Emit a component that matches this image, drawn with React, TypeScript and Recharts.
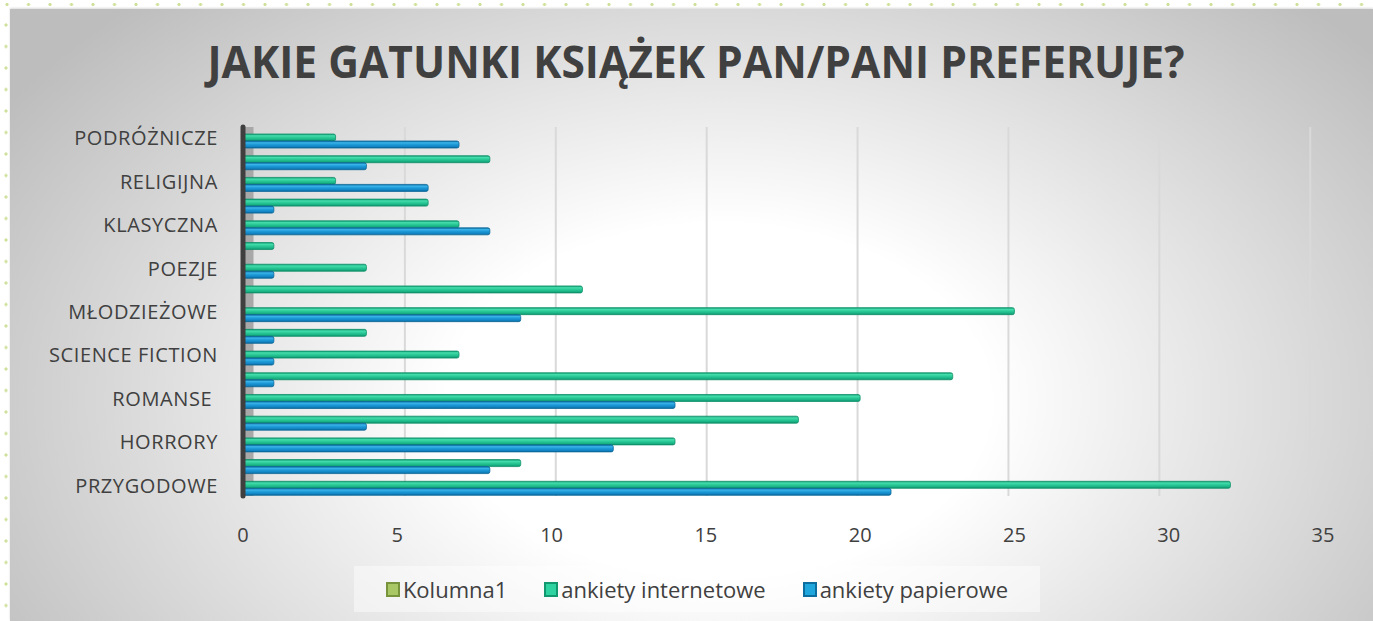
import React from "react";
import {
  BarChart,
  Bar,
  XAxis,
  YAxis,
  CartesianGrid,
  Legend,
  ReferenceArea,
} from "recharts";

// top to bottom, as in the picture; only every other row has a visible label
const categories = [
  "PODRÓŻNICZE",
  "",
  "RELIGIJNA",
  "",
  "KLASYCZNA",
  "",
  "POEZJE",
  "",
  "MŁODZIEŻOWE",
  "",
  "SCIENCE FICTION",
  "",
  "ROMANSE ",
  "",
  "HORRORY",
  "",
  "PRZYGODOWE",
];
const kolumna1 = [
  null, null, null, null, null, null, null, null, null,
  null, null, null, null, null, null, null, null,
];
const internetowe = [3, 8, 3, 6, 7, 1, 4, 11, 25, 4, 7, 23, 20, 18, 14, 9, 32];
const papierowe = [7, 4, 6, 1, 8, 0, 1, 0, 9, 1, 1, 1, 14, 4, 12, 8, 21];
const xTicks = [0, 5, 10, 15, 20, 25, 30, 35];

const data = categories.map((label, i) => ({
  key: `c${i}`,
  label,
  kolumna1: kolumna1[i],
  internetowe: internetowe[i],
  papierowe: papierowe[i],
}));

const series = [
  { key: "kolumna1", name: "Kolumna1", fill: "#9bbb59", stroke: "#77933c", swatch: "#a9c765", border: "#77933c" },
  { key: "internetowe", name: "ankiety internetowe", fill: "url(#gInt)", stroke: "#11926b", swatch: "#2fd3a2", border: "#12986f" },
  { key: "papierowe", name: "ankiety papierowe", fill: "url(#gPap)", stroke: "#0b6899", swatch: "#1fa6dd", border: "#0c6d9f" },
];

const TEXT = "#404040";
const FONT = "'Open Sans', sans-serif";

const CategoryTick = (props: any) => {
  const { x, y, payload } = props;
  return (
    <text
      x={x}
      y={y}
      textAnchor="end"
      dominantBaseline="central"
      fill={TEXT}
      fontSize={20}
      fontFamily={FONT}
      letterSpacing={0.6}
      style={{ whiteSpace: "pre" }}
    >
      {categories[payload.index]}
    </text>
  );
};

const LegendBox = () => (
  <div
    style={{
      height: 46,
      display: "flex",
      alignItems: "center",
      justifyContent: "center",
      background: "rgba(255,255,255,0.45)",
      fontFamily: FONT,
      fontSize: 22,
      color: TEXT,
    }}
  >
    {series.map((s, i) => (
      <span
        key={s.key}
        style={{
          display: "flex",
          alignItems: "center",
          marginLeft: i === 0 ? 0 : 37,
        }}
      >
        <span
          style={{
            width: 10,
            height: 11,
            background: s.swatch,
            border: `2px solid ${s.border}`,
            marginRight: 3,
          }}
        />
        {s.name}
      </span>
    ))}
  </div>
);

// back-wall gridlines sit a little behind the front plane (3D look)
const gridX = ({ offset }: any) => {
  if (!offset) return [];
  return xTicks
    .filter((v) => v > 0)
    .map((v) => offset.left + 11 + (v / 35) * offset.width * 0.978);
};

const App: React.FC = () => {
  return (
    <div
      style={{
        position: "absolute",
        left: 0,
        top: 0,
        width: 1373,
        height: 621,
        overflow: "hidden",
        background: "#fff",
      }}
    >
      {/* slide decoration: dotted strips */}
      <div
        style={{
          position: "absolute",
          left: 0,
          top: 0,
          width: 1373,
          height: 9,
          backgroundImage:
            "radial-gradient(circle, #cfe19c 1.3px, transparent 1.9px)",
          backgroundSize: "21.5px 9px",
          backgroundPosition: "-3.75px 0",
        }}
      />
      <div
        style={{
          position: "absolute",
          left: 0,
          top: 9,
          width: 12,
          height: 612,
          backgroundImage:
            "radial-gradient(circle, #cfe19c 1.3px, transparent 1.9px)",
          backgroundSize: "12px 21.5px",
          backgroundPosition: "0 5.25px",
        }}
      />
      <div
        style={{
          position: "absolute",
          left: 10,
          top: 9,
          width: 1363,
          height: 612,
          background:
            "radial-gradient(ellipse 62% 90% at 52% 64%, #ffffff 0%, #ffffff 32%, #bdbdbd 100%)",
          boxShadow: "0 -1px 2px rgba(0,0,0,0.15)",
        }}
      >
        <svg
          width={1363}
          height={100}
          style={{ position: "absolute", left: 0, top: 0 }}
        >
          <text
            x={686}
            y={69}
            textAnchor="middle"
            fill={TEXT}
            fontFamily={FONT}
            fontWeight={700}
            fontSize={45}
            textLength={977}
            lengthAdjust="spacingAndGlyphs"
          >
            JAKIE GATUNKI KSIĄŻEK PAN/PANI PREFERUJE?
          </text>
        </svg>
        <BarChart
          width={1363}
          height={612}
          data={data}
          layout="vertical"
          margin={{ top: 118, right: 50, bottom: 95, left: 0 }}
          barSize={7}
          barGap={0}
          style={{ position: "absolute", left: 0, top: 0 }}
        >
          <defs>
            <linearGradient id="gInt" x1="0" y1="0" x2="0" y2="1">
              <stop offset="0%" stopColor="#0f9a72" />
              <stop offset="25%" stopColor="#44dcab" />
              <stop offset="50%" stopColor="#2bca97" />
              <stop offset="80%" stopColor="#19b184" />
              <stop offset="100%" stopColor="#0c8a64" />
            </linearGradient>
            <linearGradient id="gPap" x1="0" y1="0" x2="0" y2="1">
              <stop offset="0%" stopColor="#0a6fa5" />
              <stop offset="25%" stopColor="#3ab3e8" />
              <stop offset="50%" stopColor="#1d9ad8" />
              <stop offset="80%" stopColor="#1284c3" />
              <stop offset="100%" stopColor="#0a6597" />
            </linearGradient>
          </defs>
          <CartesianGrid
            horizontal={false}
            stroke="#d9d9d9"
            strokeWidth={2}
            verticalCoordinatesGenerator={gridX}
          />
          <ReferenceArea
            x1={0}
            x2={0.34}
            fill="#a8a8a8"
            fillOpacity={1}
            stroke="none"
          />
          <XAxis
            type="number"
            domain={[0, 35]}
            ticks={xTicks}
            axisLine={false}
            tickLine={false}
            tickMargin={26}
            tick={{ fill: TEXT, fontSize: 20, fontFamily: FONT }}
          />
          <YAxis
            type="category"
            dataKey="key"
            width={233}
            interval={0}
            tickLine={false}
            tickMargin={19}
            axisLine={{ stroke: "#3f3f3f", strokeWidth: 5, strokeLinecap: "round" }}
            tick={<CategoryTick />}
          />
          <Legend
            layout="horizontal"
            verticalAlign="middle"
            align="center"
            content={<LegendBox />}
            wrapperStyle={{ left: 344, top: 557, width: 686, height: 46 }}
          />
          {series.map((s) => (
            <Bar
              key={s.key}
              dataKey={s.key}
              name={s.name}
              fill={s.fill}
              stroke={s.stroke}
              strokeWidth={0.8}
              radius={[0, 2, 2, 0]}
              isAnimationActive={false}
            />
          ))}
        </BarChart>
      </div>
    </div>
  );
};

export default App;
